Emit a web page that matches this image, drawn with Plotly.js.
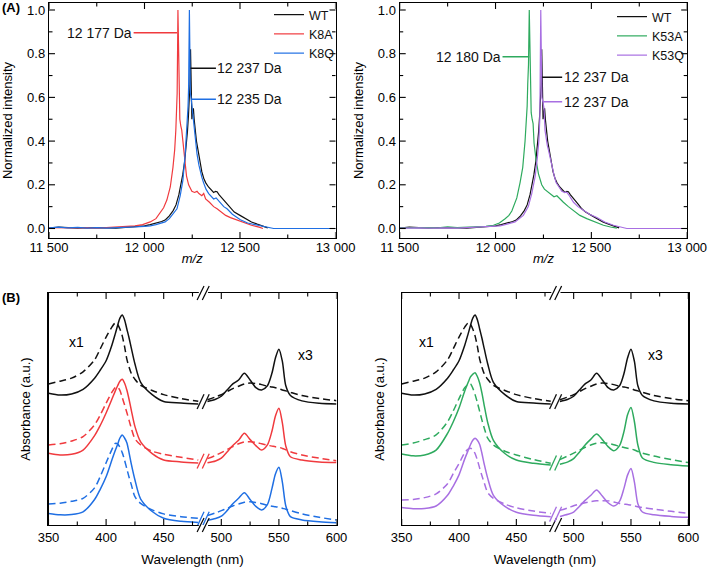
<!DOCTYPE html>
<html><head><meta charset="utf-8">
<script src="https://cdn.plot.ly/plotly-3.0.1.min.js"></script>
<style>html,body{margin:0;padding:0;background:#fff}#chart{width:709px;height:567px}</style>
</head><body><div id="chart"></div>
<script>
// ---------- (A) mass spectra ----------
const mzTickVals = [11500, 12000, 12500, 13000];
const mzTickText = ['11 500', '12 000', '12 500', '13 000'];
const mzMinorVals = [11750, 12250, 12750];
const intTickVals = [0, 0.2, 0.4, 0.6, 0.8, 1.0];
const intMinorVals = [0.1, 0.3, 0.5, 0.7, 0.9];

const mzWT = [11500,11550,11600,11650,11700,11750,11800,11850,11900,11950,12000,12030,12060,12090,12110,12130,12150,12165,12180,12190,12200,12210,12218,12225,12230,12235,12238,12241,12244,12248,12252,12256,12260,12266,12272,12278,12285,12292,12300,12310,12320,12335,12350,12362,12372,12380,12390,12400,12415,12432,12450,12470,12500,12530,12560,12590,12620,12645];
const intWT = [0.002,0.006,0.004,0.002,0.004,0.002,0.003,0.002,0.005,0.008,0.012,0.018,0.024,0.032,0.040,0.058,0.082,0.108,0.155,0.195,0.245,0.305,0.365,0.445,0.515,0.600,0.660,0.820,0.700,0.500,0.530,0.550,0.500,0.440,0.400,0.370,0.330,0.290,0.260,0.230,0.210,0.190,0.175,0.165,0.170,0.168,0.155,0.145,0.130,0.110,0.090,0.075,0.060,0.045,0.030,0.020,0.010,0.003];

const mzK8A = [11500,11550,11600,11650,11700,11750,11800,11850,11900,11950,11990,12030,12060,12082,12100,12117,12135,12149,12158,12164,12168,12171,12173,12175,12178,12181,12185,12190,12195,12201,12208,12214,12220,12231,12248,12262,12275,12285,12300,12310,12320,12340,12362,12380,12400,12425,12450,12480,12520,12560,12600,12620];
const intK8A = [0.004,0.003,0.005,0.003,0.004,0.002,0.004,0.006,0.008,0.012,0.018,0.030,0.045,0.070,0.095,0.130,0.190,0.280,0.360,0.450,0.550,0.620,0.800,1.000,0.850,0.620,0.500,0.470,0.450,0.400,0.330,0.280,0.240,0.200,0.170,0.165,0.170,0.160,0.150,0.160,0.135,0.120,0.100,0.090,0.075,0.060,0.050,0.040,0.025,0.015,0.006,0.000];

const mzK8Q = [11500,11550,11600,11650,11700,11750,11800,11850,11900,11950,12000,12030,12060,12090,12108,12130,12144,12160,12170,12187,12201,12213,12222,12228,12231,12233,12235,12237,12240,12245,12250,12256,12262,12268,12275,12285,12292,12300,12309,12322,12336,12350,12362,12375,12388,12400,12415,12432,12460,12502,12540,12589,12630,12676,12750,12850,13000];
const intK8Q = [0.003,0.006,0.003,0.005,0.002,0.004,0.002,0.003,0.005,0.007,0.010,0.012,0.018,0.025,0.030,0.045,0.060,0.075,0.090,0.150,0.220,0.340,0.450,0.560,0.650,0.850,1.000,0.850,0.620,0.590,0.550,0.480,0.430,0.390,0.340,0.290,0.260,0.235,0.210,0.180,0.160,0.145,0.135,0.140,0.125,0.115,0.100,0.090,0.065,0.040,0.025,0.015,0.007,0.000,0.000,0.000,0.000];

const mzK53A = [11500,11550,11600,11650,11700,11750,11800,11850,11900,11950,11989,12020,12050,12070,12085,12100,12111,12128,12142,12154,12160,12165,12168,12172,12176,12179,12182,12186,12191,12196,12201,12207,12212,12224,12241,12255,12268,12280,12294,12305,12320,12335,12354,12380,12407,12440,12476,12520,12563,12600,12633];
const intK53A = [0.003,0.004,0.006,0.004,0.003,0.008,0.004,0.005,0.007,0.010,0.015,0.025,0.045,0.060,0.080,0.110,0.140,0.210,0.280,0.400,0.480,0.560,0.660,0.750,1.000,0.850,0.620,0.530,0.500,0.480,0.390,0.340,0.310,0.250,0.200,0.180,0.170,0.160,0.150,0.145,0.150,0.135,0.120,0.100,0.080,0.060,0.045,0.030,0.015,0.007,0.002];

const mzK53Q = [11500,11550,11600,11650,11700,11750,11800,11850,11900,11950,12000,12024,12060,12102,12145,12171,12189,12207,12219,12226,12231,12234,12236,12239,12242,12247,12250,12253,12258,12264,12270,12276,12285,12294,12305,12316,12330,12346,12360,12372,12385,12407,12430,12459,12490,12529,12570,12615,12650,12685,12800,12900,13000];
const intK53Q = [0.002,0.004,0.003,0.002,0.004,0.003,0.002,0.004,0.005,0.008,0.010,0.012,0.020,0.030,0.060,0.100,0.160,0.240,0.330,0.400,0.500,0.700,1.000,0.800,0.600,0.580,0.570,0.550,0.450,0.400,0.380,0.360,0.320,0.280,0.245,0.210,0.190,0.170,0.165,0.165,0.150,0.120,0.100,0.085,0.065,0.050,0.030,0.015,0.006,0.000,0.000,0.000,0.000];

// mass labels
const massLabels = ['12 177 Da', '12 237 Da', '12 235 Da', '12 180 Da', '12 237 Da', '12 237 Da'];

// ---------- (B) absorbance spectra (stacked, a.u.) ----------
const wlLeft  = [350,360,370,380,390,395,400,405,408,410,412,414,416,418,420,422,425,430,440,450,465,480];
const wlRight = [488,495,500,505,510,515,520,525,530,535,540,544,547,550,553,556,560,570,585,600];

const wtSolidL  = [5.68,5.60,5.65,5.85,6.33,6.68,7.08,7.75,8.25,8.60,8.92,9.05,8.85,8.45,8.05,7.60,6.95,6.15,5.62,5.32,5.26,5.22];
const wtSolidR  = [5.32,5.42,5.55,5.82,6.08,6.25,6.54,6.25,5.92,5.82,6.00,6.55,7.20,7.58,7.05,6.00,5.58,5.35,5.25,5.22];
const wtDashL   = [6.08,6.20,6.33,6.60,7.12,7.60,8.10,8.53,8.71,8.65,8.45,8.15,7.70,7.15,6.80,6.52,6.28,6.02,5.80,5.62,5.45,5.33];
const wtDashR   = [5.40,5.52,5.62,5.75,5.88,5.98,6.08,6.12,6.10,6.05,5.98,5.95,5.92,5.88,5.82,5.78,5.72,5.58,5.45,5.36];

const k8aSolidL = [3.09,3.02,3.05,3.23,3.85,4.30,4.83,5.42,5.78,6.00,6.20,6.28,6.12,5.82,5.40,4.92,4.25,3.58,3.08,2.80,2.72,2.67];
const k8aSolidR = [2.68,2.76,2.88,3.15,3.43,3.65,3.95,3.68,3.42,3.23,3.45,4.05,4.70,5.03,4.40,3.40,2.94,2.80,2.72,2.69];
const k8aDashL  = [3.45,3.50,3.62,3.81,4.32,4.75,5.25,5.72,5.92,5.95,5.80,5.50,5.18,4.85,4.50,4.15,3.72,3.45,3.18,3.05,2.92,2.80];
const k8aDashR  = [2.86,3.00,3.12,3.25,3.38,3.50,3.58,3.59,3.56,3.50,3.44,3.40,3.37,3.35,3.30,3.24,3.16,3.02,2.88,2.77];

const k8qSolidL = [0.50,0.44,0.45,0.57,1.10,1.55,2.08,2.80,3.22,3.48,3.75,3.88,3.75,3.55,3.10,2.60,1.95,1.12,0.58,0.29,0.16,0.11];
const k8qSolidR = [0.20,0.28,0.38,0.62,0.92,1.15,1.39,1.10,0.80,0.65,0.88,1.58,2.20,2.49,1.85,0.82,0.36,0.22,0.14,0.10];
const k8qDashL  = [0.91,0.94,1.02,1.15,1.60,2.10,2.68,3.25,3.52,3.50,3.35,3.12,2.80,2.42,2.05,1.72,1.22,0.93,0.65,0.48,0.36,0.29];
const k8qDashR  = [0.41,0.52,0.62,0.72,0.82,0.90,0.98,1.00,0.97,0.92,0.85,0.81,0.79,0.76,0.72,0.68,0.62,0.48,0.33,0.22];

const k53aSolidL = [3.06,2.98,3.02,3.23,3.95,4.45,5.04,5.78,6.15,6.38,6.50,6.56,6.40,6.12,5.68,5.15,4.42,3.65,3.08,2.80,2.66,2.59];
const k53aSolidR = [2.62,2.72,2.86,3.14,3.45,3.70,3.92,3.68,3.38,3.20,3.42,4.05,4.75,5.07,4.45,3.45,2.89,2.70,2.60,2.54];
const k53aDashL  = [3.45,3.53,3.68,3.88,4.45,4.92,5.45,5.92,6.06,6.08,5.90,5.62,5.28,4.90,4.52,4.18,3.74,3.45,3.18,3.02,2.82,2.66];
const k53aDashR  = [2.82,2.98,3.10,3.22,3.35,3.45,3.53,3.55,3.52,3.46,3.39,3.34,3.31,3.28,3.23,3.17,3.10,2.97,2.82,2.69];

const k53qSolidL = [0.75,0.70,0.71,0.82,1.28,1.68,2.16,2.85,3.22,3.46,3.65,3.74,3.65,3.47,3.08,2.62,2.02,1.28,0.80,0.55,0.42,0.36];
const k53qSolidR = [0.37,0.46,0.56,0.80,1.06,1.28,1.51,1.25,0.96,0.82,1.02,1.60,2.15,2.44,1.85,0.92,0.56,0.44,0.37,0.33];
const k53qDashL  = [1.08,1.10,1.18,1.34,1.78,2.22,2.65,3.12,3.27,3.31,3.25,3.08,2.80,2.45,2.12,1.82,1.40,1.15,0.90,0.74,0.60,0.50];
const k53qDashR  = [0.63,0.74,0.83,0.90,0.96,1.01,1.04,1.05,1.04,0.99,0.93,0.90,0.88,0.86,0.82,0.79,0.75,0.68,0.59,0.50];

const wlTickVals = [350, 400, 450, 500, 550, 600];
const wlMinorVals = [375, 425, 475, 525, 575];

// ---------- styling ----------
const FONT = 'Arial, "Liberation Sans", sans-serif';
const C = {WT:'#111111', K8A:'#f03a3e', K8Q:'#1f6fe3', K53A:'#2eaa5e', K53Q:'#a86fe2'};
const W = 709, H = 567;
const px = v => v / W, py = v => 1 - v / H;

const traces = [];
function ms(x, y, name, color, xa, ya, leg) {
  traces.push({type:'scatter', mode:'lines', x:x, y:y, name:name, xaxis:xa, yaxis:ya,
    legend:leg, line:{color:color, width:1.2}, hoverinfo:'skip'});
}
ms(mzWT, intWT, 'WT', C.WT, 'x', 'y', 'legend');
ms(mzK8A, intK8A, 'K8A', C.K8A, 'x', 'y', 'legend');
ms(mzK8Q, intK8Q, 'K8Q', C.K8Q, 'x', 'y', 'legend');
ms(mzWT, intWT, 'WT', C.WT, 'x2', 'y2', 'legend2');
ms(mzK53A, intK53A, 'K53A', C.K53A, 'x2', 'y2', 'legend2');
ms(mzK53Q, intK53Q, 'K53Q', C.K53Q, 'x2', 'y2', 'legend2');

const wlAll = wlLeft.concat([484], wlRight);
function ab(l, r, color, dash, xa, ya) {
  traces.push({type:'scatter', mode:'lines', x:wlAll, y:l.concat([null], r), xaxis:xa, yaxis:ya,
    showlegend:false, connectgaps:false, hoverinfo:'skip',
    line:{color:color, width:1.5, dash:dash, shape:'spline', smoothing:0.8}});
}
const DASH = '7px,4px';
ab(wtDashL, wtDashR, C.WT, DASH, 'x3', 'y3');
ab(wtSolidL, wtSolidR, C.WT, 'solid', 'x3', 'y3');
ab(k8aDashL, k8aDashR, C.K8A, DASH, 'x3', 'y3');
ab(k8aSolidL, k8aSolidR, C.K8A, 'solid', 'x3', 'y3');
ab(k8qDashL, k8qDashR, C.K8Q, DASH, 'x3', 'y3');
ab(k8qSolidL, k8qSolidR, C.K8Q, 'solid', 'x3', 'y3');
ab(wtDashL, wtDashR, C.WT, DASH, 'x4', 'y4');
ab(wtSolidL, wtSolidR, C.WT, 'solid', 'x4', 'y4');
ab(k53aDashL, k53aDashR, C.K53A, DASH, 'x4', 'y4');
ab(k53aSolidL, k53aSolidR, C.K53A, 'solid', 'x4', 'y4');
ab(k53qDashL, k53qDashR, C.K53Q, DASH, 'x4', 'y4');
ab(k53qSolidL, k53qSolidR, C.K53Q, 'solid', 'x4', 'y4');

// ---------- axes ----------
const baseAx = {showline:true, linecolor:'#000', linewidth:1.2, mirror:true, ticks:'',
  showgrid:false, zeroline:false, tickfont:{size:13, color:'#000'}};
function mzX(dom, anchor) {
  return Object.assign({}, baseAx, {domain:dom, anchor:anchor, range:[11500,13000],
    tickmode:'array', tickvals:mzTickVals, ticktext:mzTickText, ticklabelstandoff:-3,
    title:{text:'<i>m/z</i>', font:{size:13}, standoff:0}});
}
function mzY(anchor) {
  return Object.assign({}, baseAx, {domain:[py(238), py(3)], anchor:anchor, range:[-0.0435,1.032],
    tickmode:'array', tickvals:intTickVals, tickformat:'.1f',
    title:{text:'Normalized intensity', font:{size:13}, standoff:11}});
}
function wlX(dom, anchor) {
  return Object.assign({}, baseAx, {domain:dom, anchor:anchor, range:[350,600],
    tickmode:'array', tickvals:wlTickVals,
    title:{text:'Wavelength (nm)', font:{size:13.5}, standoff:10}});
}
function wlY(anchor) {
  return {showline:true, linecolor:'#000', linewidth:1.2, mirror:true, ticks:'', showticklabels:false,
    showgrid:false, zeroline:false, domain:[py(525), py(293)], anchor:anchor, range:[0,10],
    title:{text:'Absorbance (a.u.)', font:{size:13}, standoff:13}};
}

// ---------- inside tick marks (both sides) ----------
const shapes = [];
function xTicks(xa, ya, vals, len, hpx) {
  vals.forEach(function (v) {
    [[0, len / hpx], [1, 1 - len / hpx]].forEach(function (p) {
      shapes.push({type:'line', xref:xa, yref:ya + ' domain', x0:v, x1:v, y0:p[0], y1:p[1],
        line:{color:'#000', width:1.1}, layer:'above'});
    });
  });
}
function yTicks(xa, ya, vals, len, wpx) {
  vals.forEach(function (v) {
    [[0, len / wpx], [1, 1 - len / wpx]].forEach(function (p) {
      shapes.push({type:'line', xref:xa + ' domain', yref:ya, x0:p[0], x1:p[1], y0:v, y1:v,
        line:{color:'#000', width:1.1}, layer:'above'});
    });
  });
}
['', '2'].forEach(function (s) {
  xTicks('x' + s, 'y' + s, mzTickVals, 6, 235);
  xTicks('x' + s, 'y' + s, mzMinorVals, 3.5, 235);
  yTicks('x' + s, 'y' + s, intTickVals, 6, 287);
  yTicks('x' + s, 'y' + s, intMinorVals, 3.5, 287);
});
['3', '4'].forEach(function (s) {
  xTicks('x' + s, 'y' + s, wlTickVals, 6, 232);
  xTicks('x' + s, 'y' + s, wlMinorVals, 3.5, 232);
});

// ---------- break marks ----------
function brk(xa, ya, yc, color) {
  const h = 0.32;
  shapes.push({type:'line', xref:xa, yref:ya, x0:479, x1:485, y0:yc-h, y1:yc+h, line:{color:color, width:1.3}});
  shapes.push({type:'line', xref:xa, yref:ya, x0:483.5, x1:489.5, y0:yc-h, y1:yc+h, line:{color:color, width:1.3}});
}
function axisBreak(xa, ya) {
  [0, 1].forEach(function (d) {
    shapes.push({type:'rect', xref:xa, yref:ya + ' domain', x0:480.5, x1:488.5, y0:d-0.012, y1:d+0.012,
      fillcolor:'#fff', line:{width:0}, layer:'above'});
    shapes.push({type:'line', xref:xa, yref:ya + ' domain', x0:479, x1:485, y0:d-0.03, y1:d+0.03, line:{color:'#000', width:1.2}, layer:'above'});
    shapes.push({type:'line', xref:xa, yref:ya + ' domain', x0:483.5, x1:489.5, y0:d-0.03, y1:d+0.03, line:{color:'#000', width:1.2}, layer:'above'});
  });
}
function mid(a, b, c, d) { return (a[a.length-1] + b[b.length-1] + c[0] + d[0]) / 4; }
axisBreak('x3', 'y3'); axisBreak('x4', 'y4');
brk('x3', 'y3', mid(wtSolidL, wtDashL, wtSolidR, wtDashR), C.WT);
brk('x3', 'y3', mid(k8aSolidL, k8aDashL, k8aSolidR, k8aDashR), C.K8A);
brk('x3', 'y3', mid(k8qSolidL, k8qDashL, k8qSolidR, k8qDashR), C.K8Q);
brk('x4', 'y4', mid(wtSolidL, wtDashL, wtSolidR, wtDashR), C.WT);
brk('x4', 'y4', mid(k53aSolidL, k53aDashL, k53aSolidR, k53aDashR), C.K53A);
brk('x4', 'y4', mid(k53qSolidL, k53qDashL, k53qSolidR, k53qDashR), C.K53Q);

// ---------- annotations ----------
function lab(text, x, y, tx, color, xa, ya) {
  return {text:text, x:x, y:y, ax:tx, ay:y, axref:xa, ayref:ya, xref:xa, yref:ya,
    showarrow:true, arrowhead:0, arrowwidth:1.5, arrowcolor:color, standoff:0, startstandoff:0,
    font:{size:14, color:'#111'}, borderpad:1};
}
const annotations = [
  lab(massLabels[0], 12170, 0.896, 11765, C.K8A, 'x', 'y'),
  lab(massLabels[1], 12241, 0.733, 12552, C.WT, 'x', 'y'),
  lab(massLabels[2], 12247, 0.591, 12552, C.K8Q, 'x', 'y'),
  lab(massLabels[3], 12176, 0.786, 11859, C.K53A, 'x2', 'y2'),
  lab(massLabels[4], 12243, 0.692, 12525, C.WT, 'x2', 'y2'),
  lab(massLabels[5], 12248, 0.580, 12525, C.K53Q, 'x2', 'y2'),
  {text:'<b>(A)</b>', xref:'paper', yref:'paper', x:px(0), y:py(7), xanchor:'left', yanchor:'middle', showarrow:false, font:{size:13}},
  {text:'<b>(B)</b>', xref:'paper', yref:'paper', x:px(0), y:py(297), xanchor:'left', yanchor:'middle', showarrow:false, font:{size:13}},
  {text:'x1', xref:'x3', yref:'y3', x:374.7, y:7.9, showarrow:false, font:{size:14}},
  {text:'x3', xref:'x3', yref:'y3', x:572.7, y:7.33, showarrow:false, font:{size:14}},
  {text:'x1', xref:'x4', yref:'y4', x:372, y:7.9, showarrow:false, font:{size:14}},
  {text:'x3', xref:'x4', yref:'y4', x:571.8, y:7.33, showarrow:false, font:{size:14}}
];

const legendBase = {bgcolor:'rgba(0,0,0,0)', borderwidth:0, font:{size:12.5, color:'#111'},
  itemwidth:30, tracegroupgap:0, xanchor:'left', yanchor:'top'};

const layout = {
  width:W, height:H, margin:{l:0, r:0, t:0, b:0}, paper_bgcolor:'#fff', plot_bgcolor:'#fff',
  font:{family:FONT, color:'#000', size:13},
  xaxis: mzX([px(49), px(335.5)], 'y'),
  yaxis: mzY('x'),
  xaxis2: mzX([px(399.7), px(687.2)], 'y2'),
  yaxis2: mzY('x2'),
  xaxis3: wlX([px(48.5), px(336.5)], 'y3'),
  yaxis3: wlY('x3'),
  xaxis4: wlX([px(401.7), px(688.3)], 'y4'),
  yaxis4: wlY('x4'),
  legend: Object.assign({}, legendBase, {x:px(269), y:py(0)}),
  legend2: Object.assign({}, legendBase, {x:px(612), y:py(2)}),
  shapes: shapes,
  annotations: annotations,
  showlegend: true
};

Plotly.newPlot('chart', traces, layout, {displayModeBar:false, staticPlot:true});
</script></body></html>
